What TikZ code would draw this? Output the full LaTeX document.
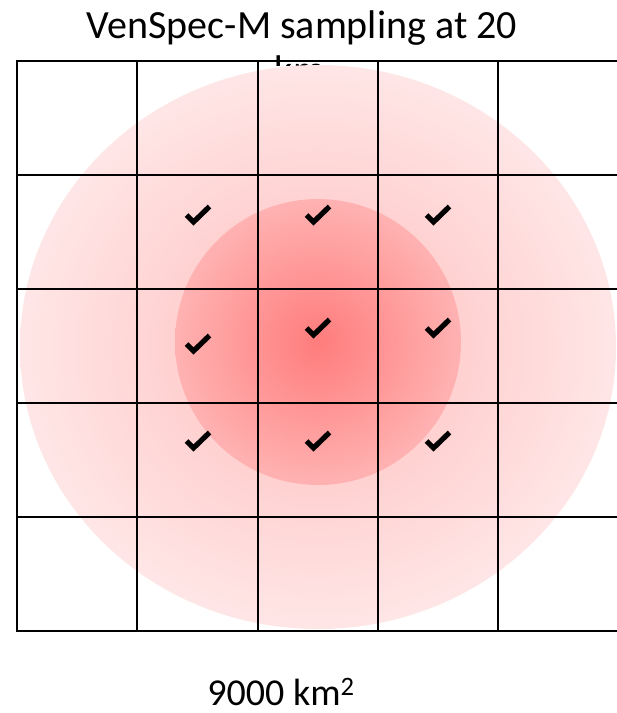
\documentclass[tikz,border=0pt]{standalone}
\usepackage{fontspec}
\setmainfont{Carlito}
\definecolor{outerC}{HTML}{FFBDBD}
\definecolor{outerE}{HTML}{FFE6E6}
\definecolor{innerC}{HTML}{FF7C7C}
\definecolor{innerE}{HTML}{FFB2B2}
\begin{document}
\begin{tikzpicture}[x=1pt,y=-1pt,
  gridline/.style={line width=2.6pt, line cap=rect},
  checkstroke/.style={line width=5.2pt, line join=miter, line cap=butt},
  label/.style={font=\fontsize{40}{48}\selectfont, inner sep=0pt, anchor=base}]
\useasboundingbox (0,0) rectangle (617,713);
\node[label] (title) at (302,38) {VenSpec-M sampling at 20};
\node[label] (titlekm) at (300,83) {km};
\fill[white] (17,65.5) rectangle (617,631);
\shade[inner color=outerC, outer color=outerE] (318,347) ellipse [x radius=298pt, y radius=282pt];
\shade[inner color=innerC, outer color=innerE] (318,342) circle [radius=143pt];
\foreach \x in {17,137,258,378,498}
  \draw[gridline] (\x,61) -- (\x,631);
\foreach \y in {61,175,289,403,517,631}
  \draw[gridline] (17,\y) -- (620,\y);
\coordinate (c11) at (198,216);
\coordinate (c12) at (318,216);
\coordinate (c13) at (438,216);
\coordinate (c21) at (198,345);
\coordinate (c22) at (318,329);
\coordinate (c23) at (438,329);
\coordinate (c31) at (198,442);
\coordinate (c32) at (318,442);
\coordinate (c33) at (438,442);
\foreach \c in {c11,c12,c13,c21,c22,c23,c31,c32,c33}
  \draw[checkstroke] ([shift={(-11.5,-1)}]\c) -- ([shift={(-4.5,6)}]\c) -- ([shift={(11.5,-9.5)}]\c);
\node[label, font=\fontsize{38}{44}\selectfont, text depth=0pt] (area) at (281,705) {9000 km\textsuperscript{2}};
\end{tikzpicture}
\end{document}
